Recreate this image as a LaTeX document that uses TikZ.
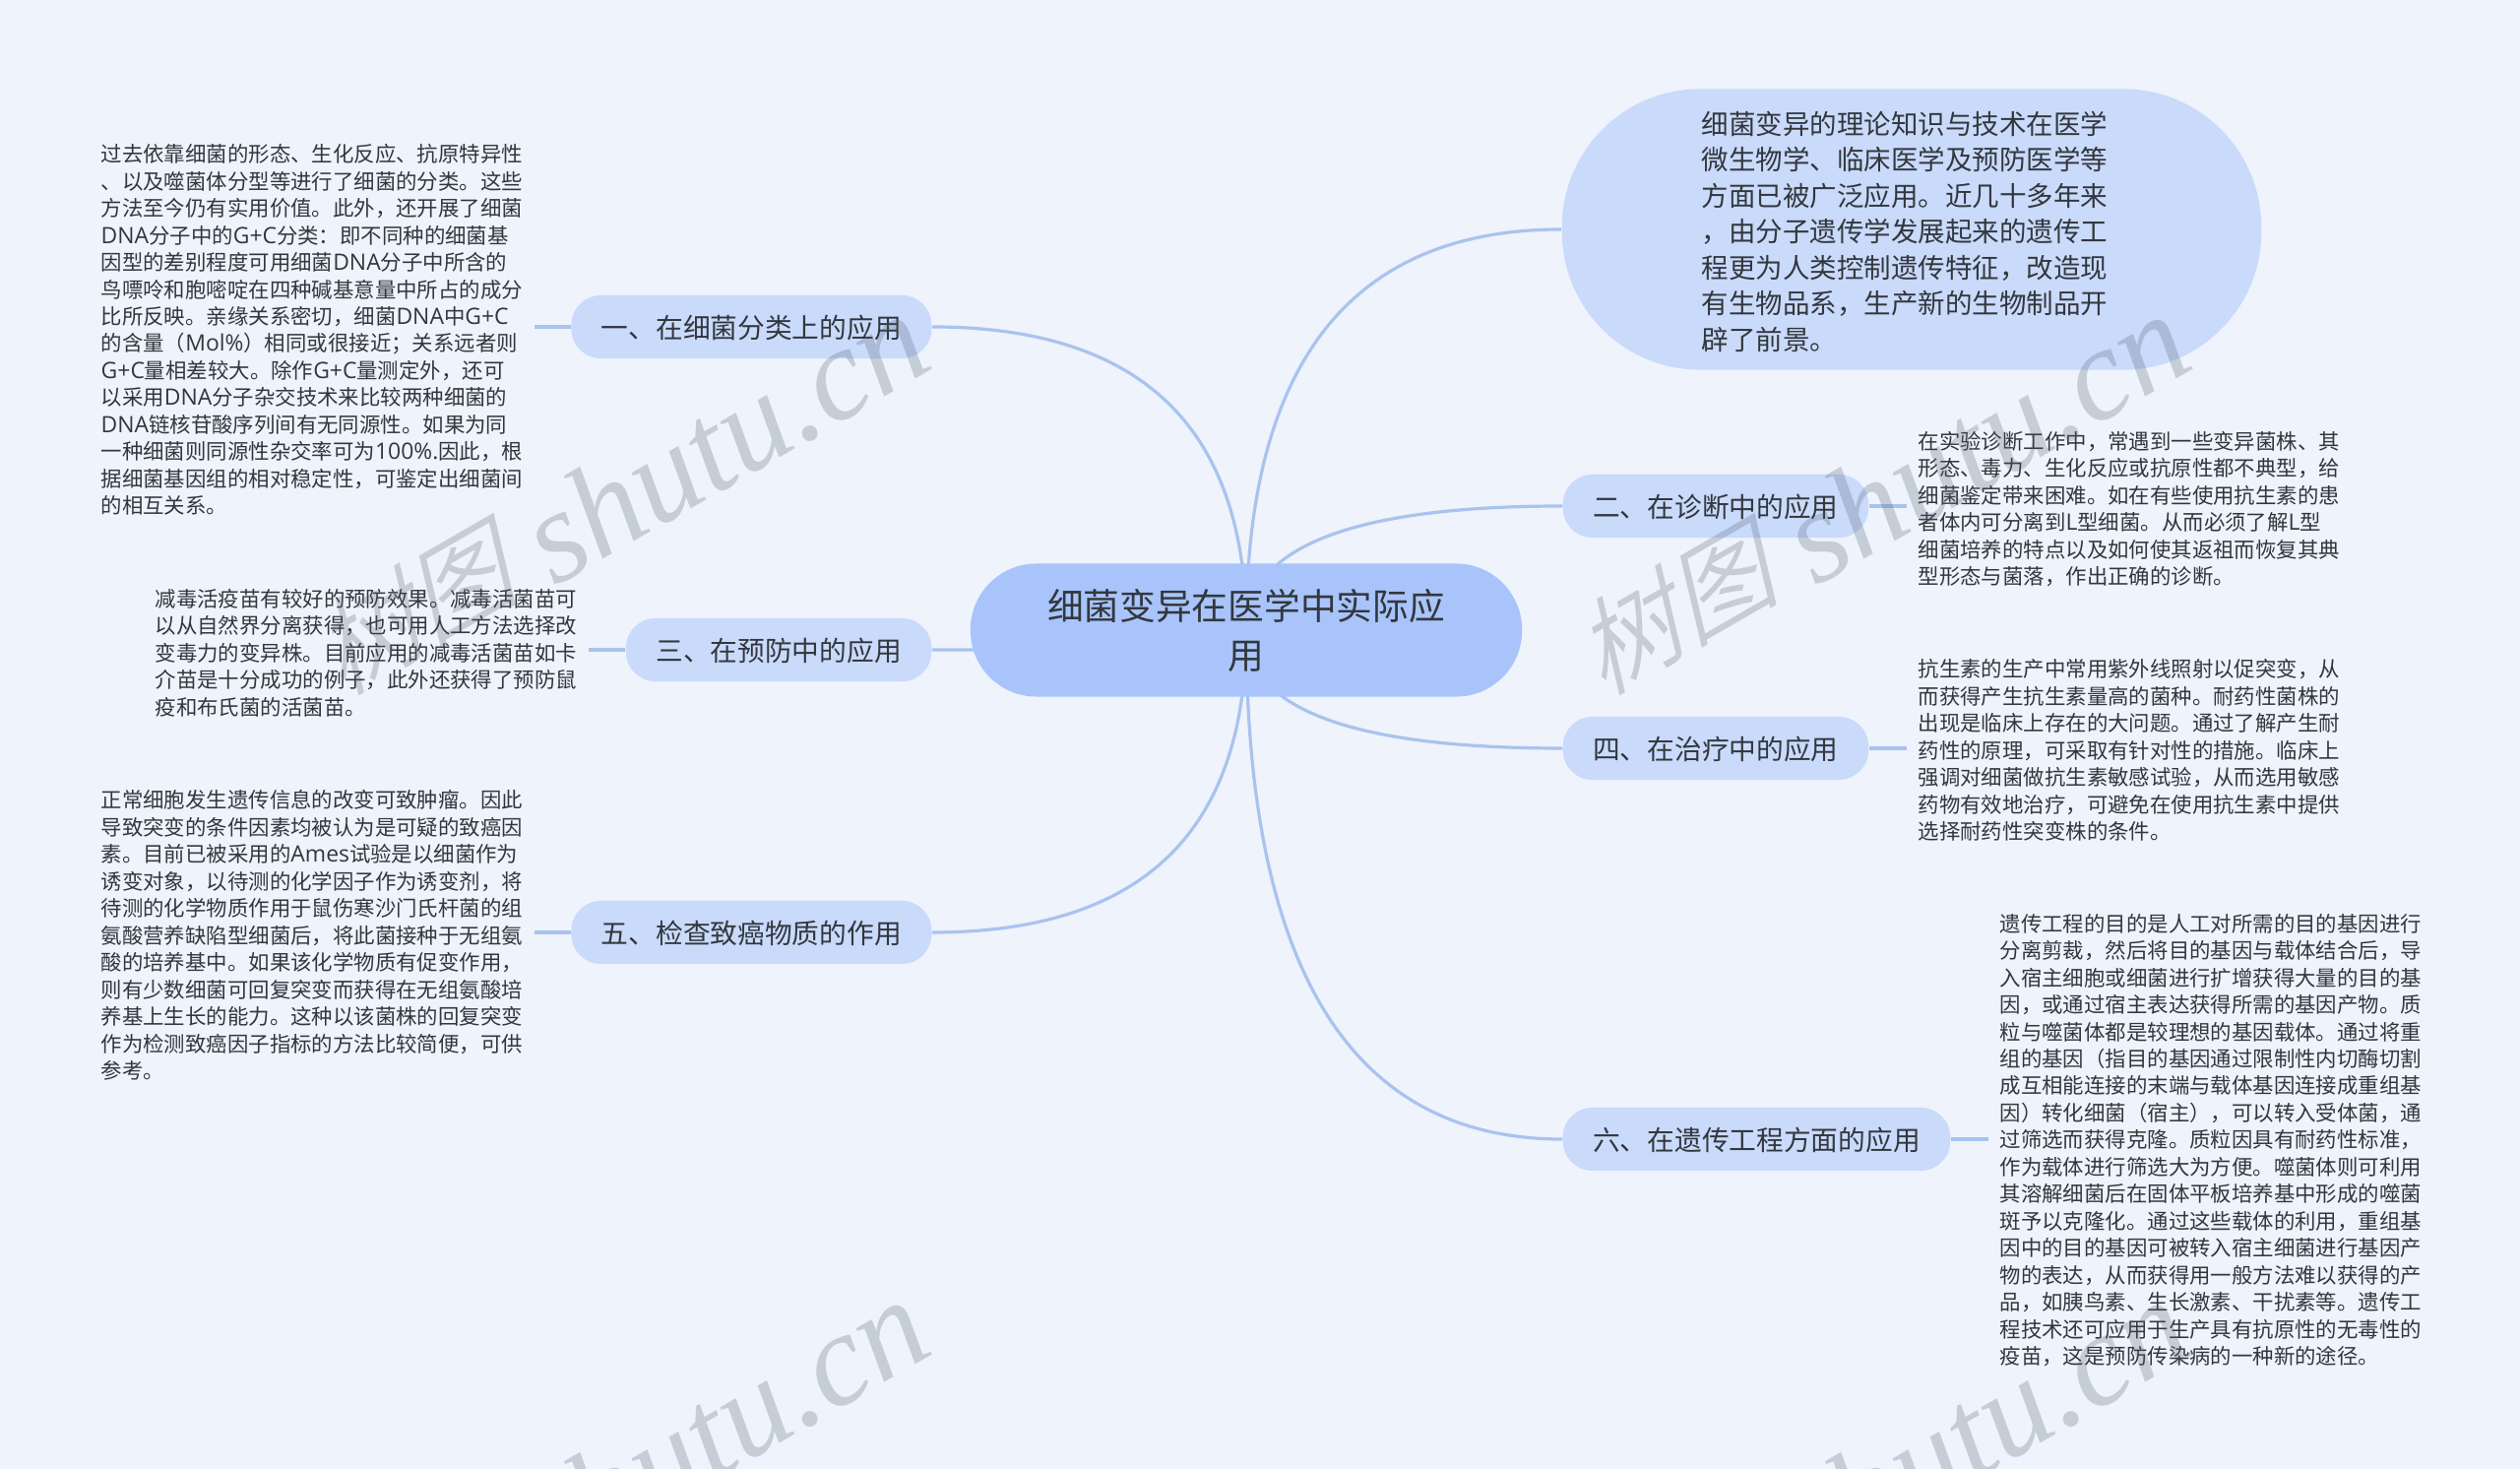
\documentclass[tikz,border=0pt]{standalone}
\usepackage{fontspec}
\setmainfont{Noto Sans CJK SC}
\newfontfamily\markcjk[FakeSlant=0.3]{Noto Sans CJK SC DemiLight}
\newfontfamily\marklatin{Liberation Serif}
\newfontfamily\latinfont[Scale=1.07]{Open Sans}
\newcommand\lat[1]{{\latinfont #1}}
\usetikzlibrary{backgrounds}
\definecolor{pagecol}{HTML}{EEF3FC}
\definecolor{rootcol}{HTML}{A8C4FA}
\definecolor{branchcol}{HTML}{C9DAFB}
\definecolor{linkcol}{HTML}{A9C3EE}
\definecolor{inkcol}{HTML}{33373D}
\definecolor{markcol}{HTML}{4E5C6C}
\tikzset{
  rootbox/.style={fill=rootcol,rounded corners=0.67cm,minimum width=5.6cm,minimum height=1.35cm,
    text width=5.6cm,align=center,text=inkcol,font=\fontsize{10.44}{14.2}\selectfont,inner sep=0pt},
  bubble/.style={fill=branchcol,rounded corners=1.4cm,minimum width=7.1cm,minimum height=2.85cm,
    text width=4.26cm,align=left,text=inkcol,font=\fontsize{7.82}{10.38}\selectfont,inner sep=0pt},
  branch/.style={fill=branchcol,rounded corners=0.3cm,minimum height=0.64cm,inner xsep=0.305cm,
    inner ysep=0pt,text height=6.9pt,text depth=0.2pt,text=inkcol,font=\fontsize{7.88}{10.44}\selectfont},
  note/.style={align=left,text=inkcol,inner sep=0.11cm,font=\fontsize{6.09}{7.81}\selectfont},
  link/.style={draw=linkcol,line width=0.032cm},
  markbox/.style={text=markcol,text opacity=.25,rotate=30,anchor=base east,inner sep=0pt}
}
\begin{document}
\begin{tikzpicture}
  [x=0.01cm,y=-0.01cm]
  \useasboundingbox (0,0) rectangle (2560,1492);

  \node[rootbox] (r) at (1266,640) {\rule{0pt}{9.2pt}细菌变异在医学中实际应\\用};

  \node[branch,anchor=east] (b1) at (947,332) {一、在细菌分类上的应用};
  \node[branch,anchor=east] (b3) at (947,660) {三、在预防中的应用};
  \node[branch,anchor=east] (b5) at (947,947) {五、检查致癌物质的作用};
  \node[branch,anchor=west] (b2) at (1587,514) {二、在诊断中的应用};
  \node[branch,anchor=west] (b4) at (1587,760) {四、在治疗中的应用};
  \node[branch,anchor=west] (b6) at (1587,1157) {六、在遗传工程方面的应用};

  \node[bubble] (top) at (1942,233) {\rule{0pt}{7.8pt}细菌变异的理论知识与技术在医学\\
    微生物学、临床医学及预防医学等\\
    方面已被广泛应用。近几十多年来\\
    ，由分子遗传学发展起来的遗传工\\
    程更为人类控制遗传特征，改造现\\
    有生物品系，生产新的生物制品开\\
    辟了前景。};

  \node[note,anchor=west] (t1) at (91,335) {过去依靠细菌的形态、生化反应、抗原特异性\\
    、以及噬菌体分型等进行了细菌的分类。这些\\
    方法至今仍有实用价值。此外，还开展了细菌\\
    \lat{DNA}分子中的\lat{G+C}分类：即不同种的细菌基\\
    因型的差别程度可用细菌\lat{DNA}分子中所含的\\
    鸟嘌呤和胞嘧啶在四种碱基意量中所占的成分\\
    比所反映。亲缘关系密切，细菌\lat{DNA}中\lat{G+C}\\
    的含量（\lat{Mol\%}）相同或很接近；关系远者则\\
    \lat{G+C}量相差较大。除作\lat{G+C}量测定外，还可\\
    以采用\lat{DNA}分子杂交技术来比较两种细菌的\\
    \lat{DNA}链核苷酸序列间有无同源性。如果为同\\
    一种细菌则同源性杂交率可为\lat{100\%.}因此，根\\
    据细菌基因组的相对稳定性，可鉴定出细菌间\\
    的相互关系。};
  \node[note,anchor=west] (t3) at (146,663) {减毒活疫苗有较好的预防效果。减毒活菌苗可\\
    以从自然界分离获得，也可用人工方法选择改\\
    变毒力的变异株。目前应用的减毒活菌苗如卡\\
    介苗是十分成功的例子，此外还获得了预防鼠\\
    疫和布氏菌的活菌苗。};
  \node[note,anchor=west] (t5) at (91,950) {正常细胞发生遗传信息的改变可致肿瘤。因此\\
    导致突变的条件因素均被认为是可疑的致癌因\\
    素。目前已被采用的\lat{Ames}试验是以细菌作为\\
    诱变对象，以待测的化学因子作为诱变剂，将\\
    待测的化学物质作用于鼠伤寒沙门氏杆菌的组\\
    氨酸营养缺陷型细菌后，将此菌接种于无组氨\\
    酸的培养基中。如果该化学物质有促变作用，\\
    则有少数细菌可回复突变而获得在无组氨酸培\\
    养基上生长的能力。这种以该菌株的回复突变\\
    作为检测致癌因子指标的方法比较简便，可供\\
    参考。};
  \node[note,anchor=west] (t2) at (1937,517) {在实验诊断工作中，常遇到一些变异菌株、其\\
    形态、毒力、生化反应或抗原性都不典型，给\\
    细菌鉴定带来困难。如在有些使用抗生素的患\\
    者体内可分离到\lat{L}型细菌。从而必须了解\lat{L}型\\
    细菌培养的特点以及如何使其返祖而恢复其典\\
    型形态与菌落，作出正确的诊断。};
  \node[note,anchor=west] (t4) at (1937,762) {抗生素的生产中常用紫外线照射以促突变，从\\
    而获得产生抗生素量高的菌种。耐药性菌株的\\
    出现是临床上存在的大问题。通过了解产生耐\\
    药性的原理，可采取有针对性的措施。临床上\\
    强调对细菌做抗生素敏感试验，从而选用敏感\\
    药物有效地治疗，可避免在使用抗生素中提供\\
    选择耐药性突变株的条件。};
  \node[note,anchor=west] (t6) at (2020,1158) {遗传工程的目的是人工对所需的目的基因进行\\
    分离剪裁，然后将目的基因与载体结合后，导\\
    入宿主细胞或细菌进行扩增获得大量的目的基\\
    因，或通过宿主表达获得所需的基因产物。质\\
    粒与噬菌体都是较理想的基因载体。通过将重\\
    组的基因（指目的基因通过限制性内切酶切割\\
    成互相能连接的末端与载体基因连接成重组基\\
    因）转化细菌（宿主），可以转入受体菌，通\\
    过筛选而获得克隆。质粒因具有耐药性标准，\\
    作为载体进行筛选大为方便。噬菌体则可利用\\
    其溶解细菌后在固体平板培养基中形成的噬菌\\
    斑予以克隆化。通过这些载体的利用，重组基\\
    因中的目的基因可被转入宿主细菌进行基因产\\
    物的表达，从而获得用一般方法难以获得的产\\
    品，如胰鸟素、生长激素、干扰素等。遗传工\\
    程技术还可应用于生产具有抗原性的无毒性的\\
    疫苗，这是预防传染病的一种新的途径。};

  \begin{scope}[on background layer]
    \fill[pagecol] (0,0) rectangle (2560,1492);
    \foreach \to/\bend in {b1/-205,b3/13,b5/205}
      \draw[link] (r.center) .. controls +(0,\bend) and +(213,0) .. (\to.east);
    \foreach \to/\bend in {top.west/-271,b2.west/-84,b4.west/80,b6.west/345}
      \draw[link] (r.center) .. controls +(0,\bend) and +(-214,0) .. (\to);
    \foreach \from/\to in {b1.west/t1.east,b3.west/t3.east,b5.west/t5.east,
    b2.east/t2.west,b4.east/t4.west,b6.east/t6.west}
      \draw[link] (\from) -- (\from -| \to);
  \end{scope}

  \begin{scope}
    \clip (0,0) rectangle (2560,1492);
    \foreach \x/\y/\id in {953/372/1,2234/372/2,953/1373/3,2234/1373/4}
      \node[markbox] (m\id) at (\x,\y) {\fontsize{30}{30}\selectfont\raisebox{3.5pt}{\markcjk 树图}\hspace{9pt}\fontsize{38}{38}\selectfont\marklatin\itshape shutu.cn};
  \end{scope}
\end{tikzpicture}
\end{document}
